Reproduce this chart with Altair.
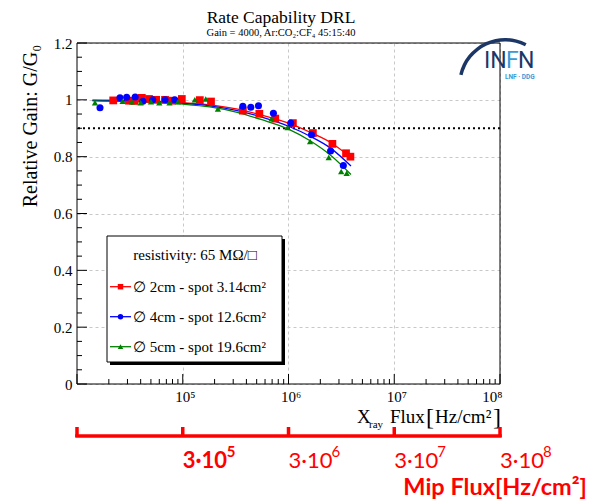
import altair as alt
import pandas as pd

# ---------------- data ----------------
series_names = ["2cm", "4cm", "5cm"]
series_colors = ["#ff0000", "#0000ff", "#008000"]
series_shapes = ["square", "circle", "triangle-up"]
series_sizes = [60, 40, 40]

red_x = [2.2e4, 3.1e4, 3.5e4, 4.1e4, 4.8e4, 5.6e4, 6.8e4, 7.9e4, 9.8e4, 1.45e5, 1.85e5,
         3.7e5, 5.3e5, 7.5e5, 1.1e6, 1.7e6, 2.6e6, 3.5e6, 3.85e6]
red_y = [0.998, 0.997, 0.996, 1.007, 1.003, 1.0, 1.0, 0.997, 1.003, 0.999, 0.994,
         0.962, 0.951, 0.934, 0.918, 0.883, 0.845, 0.812, 0.800]

blue_x = [1.65e4, 2.55e4, 2.95e4, 3.55e4, 4.2e4, 5.2e4, 6.8e4, 8.4e4,
          3.7e5, 4.4e5, 5.2e5, 7.2e5, 1.05e6, 1.65e6, 2.5e6, 3.3e6]
blue_y = [0.972, 1.007, 1.009, 1.010, 0.995, 1.0, 1.0, 1.0,
          0.977, 0.974, 0.979, 0.953, 0.918, 0.877, 0.820, 0.769]

green_x = [1.48e4, 2.7e4, 3.3e4, 4.0e4, 5.0e4, 6.0e4, 7.5e4, 9.0e4, 1.3e5, 1.65e5, 2.15e5,
           6.9e5, 9.8e5, 1.6e6, 2.4e6, 3.15e6, 3.55e6]
green_y = [0.990, 0.995, 0.993, 0.990, 0.993, 0.990, 0.990, 0.993, 1.0, 1.003, 0.968,
           0.933, 0.903, 0.853, 0.797, 0.748, 0.742]

fit_x = [1.4e4, 3e4, 1e5, 1.8e5, 3.2e5, 5.6e5, 1e6, 1.6e6, 2.5e6, 3.9e6]
red_fit = [0.999, 0.998, 0.990, 0.982, 0.968, 0.946, 0.918, 0.886, 0.850, 0.797]
blue_fit = [0.998, 0.996, 0.988, 0.979, 0.963, 0.939, 0.907, 0.872, 0.830, 0.767]
green_fit = [0.996, 0.994, 0.985, 0.975, 0.957, 0.930, 0.897, 0.856, 0.805, 0.737]

threshold = [0.9]

x_label_values = [1e5, 1e6, 1e7, 1e8]
x_label_texts = ["10⁵", "10⁶", "10⁷", "10⁸"]
y_label_values = [0, 0.2, 0.4, 0.6, 0.8, 1.0, 1.2]
y_minor_values = [0.05, 0.1, 0.15, 0.25, 0.3, 0.35, 0.45, 0.5, 0.55, 0.65, 0.7, 0.75,
                  0.85, 0.9, 0.95, 1.05, 1.1, 1.15]
x_major_ticks = [1e4, 1e5, 1e6, 1e7, 1e8]
x_minor_ticks = [m * d for d in [1e4, 1e5, 1e6, 1e7] for m in range(2, 10)]

mip_decades = [1e4, 1e5, 1e6, 1e7, 1e8]
mip_label_x = [1e5, 1e6, 1e7, 1e8]
mip_label_base = ["3·10", "3·10", "3·10", "3·10"]
mip_label_exp = ["5", "6", "7", "8"]

legend_labels = ["∅ 2cm - spot 3.14cm²", "∅ 4cm - spot 12.6cm²", "∅ 5cm - spot 19.6cm²"]

SERIF = "Liberation Serif"
SANS = "Lato"
W, H = 423, 341

points = pd.concat([
    pd.DataFrame({"series": "2cm", "x": red_x, "y": red_y}),
    pd.DataFrame({"series": "4cm", "x": blue_x, "y": blue_y}),
    pd.DataFrame({"series": "5cm", "x": green_x, "y": green_y}),
])
fits = pd.concat([
    pd.DataFrame({"series": "2cm", "x": fit_x, "y": red_fit}),
    pd.DataFrame({"series": "4cm", "x": fit_x, "y": blue_fit}),
    pd.DataFrame({"series": "5cm", "x": fit_x, "y": green_fit}),
])

xscale = alt.Scale(type="log", domain=[1e4, 1e8], nice=False)
yscale = alt.Scale(domain=[0, 1.2], nice=False, zero=False)

label_expr = "[" + ",".join("'%s'" % t for t in x_label_texts) + "][round(log(datum.value)/LN10) - 5]"
xaxis = alt.Axis(values=x_label_values, labelExpr=label_expr, title=None, ticks=False, domain=False,
                 grid=True, gridColor="#c8c8c8", gridDash=[3, 3], gridWidth=1,
                 labelFont=SERIF, labelFontSize=15, labelColor="#000", labelPadding=5, labelOffset=2)
yaxis = alt.Axis(values=y_label_values, format="~g", title=None, ticks=False, domain=False,
                 grid=True, gridColor="#c8c8c8", gridDash=[3, 3], gridWidth=1,
                 labelFont=SERIF, labelFontSize=15, labelColor="#000", labelPadding=5)

X = alt.X("x:Q", scale=xscale, axis=xaxis)
Y = alt.Y("y:Q", scale=yscale, axis=yaxis)
color = alt.Color("series:N", scale=alt.Scale(domain=series_names, range=series_colors), legend=None)
shape = alt.Shape("series:N", scale=alt.Scale(domain=series_names, range=series_shapes), legend=None)
size = alt.Size("series:N", scale=alt.Scale(domain=series_names, range=series_sizes), legend=None)

one = pd.DataFrame({"a": [0]})


def txt(text, x, y, **kw):
    return alt.Chart(one).mark_text(text=text, **kw).encode(x=alt.value(x), y=alt.value(y))


lines = alt.Chart(fits).mark_line(strokeWidth=1.3, interpolate="monotone").encode(x=X, y=Y, color=color)
pts = alt.Chart(points).mark_point(filled=True, opacity=1).encode(x=X, y=Y, color=color, shape=shape, size=size)

dotted = alt.Chart(pd.DataFrame({"y": threshold})).mark_rule(
    color="#000", strokeWidth=2, strokeDash=[2, 3]).encode(y=alt.Y("y:Q", scale=yscale))

ymaj = alt.Chart(pd.DataFrame({"y": y_label_values})).mark_rule(color="#000").encode(
    y=alt.Y("y:Q", scale=yscale), x=alt.value(0), x2=alt.value(10))
ymin = alt.Chart(pd.DataFrame({"y": y_minor_values})).mark_rule(color="#000").encode(
    y=alt.Y("y:Q", scale=yscale), x=alt.value(0), x2=alt.value(5))
xmaj = alt.Chart(pd.DataFrame({"x": x_major_ticks})).mark_rule(color="#000").encode(
    x=alt.X("x:Q", scale=xscale), y=alt.value(H), y2=alt.value(H - 10))
xmin = alt.Chart(pd.DataFrame({"x": x_minor_ticks})).mark_rule(color="#000").encode(
    x=alt.X("x:Q", scale=xscale), y=alt.value(H), y2=alt.value(H - 5))

frame = alt.Chart(one).mark_rect(fill=None, stroke="#000", strokeWidth=1).encode(
    x=alt.value(0), x2=alt.value(W), y=alt.value(0), y2=alt.value(H))

# legend box
leg_shadow = alt.Chart(one).mark_rect(color="#000").encode(
    x=alt.value(33), x2=alt.value(208), y=alt.value(196), y2=alt.value(322))
leg_box = alt.Chart(one).mark_rect(fill="#fff", stroke="#000", strokeWidth=1).encode(
    x=alt.value(30), x2=alt.value(205), y=alt.value(193), y2=alt.value(319))
leg_title = txt("resistivity: 65 MΩ/□", 118, 212, font=SERIF, fontSize=15, align="center", baseline="middle")
leg_layers = [leg_shadow, leg_box, leg_title]
for i, (lab, col, shp) in enumerate(zip(legend_labels, series_colors, series_shapes)):
    yy = 243.7 + 30 * i
    leg_layers.append(alt.Chart(one).mark_rule(color=col, strokeWidth=1.3).encode(
        x=alt.value(33), x2=alt.value(54), y=alt.value(yy)))
    leg_layers.append(alt.Chart(one).mark_point(shape=shp, filled=True, opacity=1, color=col, size=30).encode(
        x=alt.value(43.5), y=alt.value(yy)))
    leg_layers.append(txt(lab, 56, yy, font=SERIF, fontSize=15, align="left", baseline="middle"))

# titles
title = txt("Rate Capability DRL", 204, -25, font=SERIF, fontSize=17.5, align="center", baseline="middle")
subtitle = txt("Gain = 4000, Ar:CO₂:CF₄ 45:15:40", 204, -10, font=SERIF, fontSize=10.5, align="center", baseline="middle")
ytitle = txt("Relative Gain: G/G₀", -46, 83, font=SERIF, fontSize=20, align="center", baseline="middle", angle=270)
xt1 = txt("X", 280, 380, font=SERIF, fontSize=19, align="left", baseline="alphabetic")
xt2 = txt("ray", 292, 385, font=SERIF, fontSize=11, align="left", baseline="alphabetic")
xt3 = txt("Flux", 313, 380, font=SERIF, fontSize=19, align="left", baseline="alphabetic")
xt4 = txt("[", 349, 382, font=SERIF, fontSize=24, align="left", baseline="alphabetic")
xt5 = txt("Hz/cm²", 358, 380, font=SERIF, fontSize=19, align="left", baseline="alphabetic")
xt6 = txt("]", 416, 382, font=SERIF, fontSize=24, align="left", baseline="alphabetic")

# mip flux bracket
brk_line = alt.Chart(pd.DataFrame({"x": [mip_decades[0]], "x2": [mip_decades[-1]]})).mark_rule(
    color="#ff0000", strokeWidth=3.5, strokeCap="square").encode(
    x=alt.X("x:Q", scale=xscale), x2="x2:Q", y=alt.value(393))
brk_ticks = alt.Chart(pd.DataFrame({"x": mip_decades})).mark_rule(
    color="#ff0000", strokeWidth=3.5).encode(
    x=alt.X("x:Q", scale=xscale), y=alt.value(384), y2=alt.value(394))
mip_df = pd.DataFrame({"x": mip_label_x, "b": mip_label_base, "e": mip_label_exp,
                       "bold": [True, False, False, False]})
MIP_Y = 418
mip_bold = alt.Chart(mip_df[mip_df.bold]).mark_text(
    font=SANS, fontSize=22, fontWeight="bold", color="#ff0000", align="left", baseline="middle").encode(
    x=alt.X("x:Q", scale=xscale), y=alt.value(MIP_Y), text="b:N")
mip_norm = alt.Chart(mip_df[~mip_df.bold]).mark_text(
    font=SANS, fontSize=22, color="#ff0000", align="left", baseline="middle").encode(
    x=alt.X("x:Q", scale=xscale), y=alt.value(MIP_Y), text="b:N")
mip_exp_b = alt.Chart(mip_df[mip_df.bold]).mark_text(
    font=SANS, fontSize=15, fontWeight="bold", color="#ff0000", align="left", baseline="middle", dx=44, dy=-9).encode(
    x=alt.X("x:Q", scale=xscale), y=alt.value(MIP_Y), text="e:N")
mip_exp_n = alt.Chart(mip_df[~mip_df.bold]).mark_text(
    font=SANS, fontSize=15, color="#ff0000", align="left", baseline="middle", dx=43, dy=-9).encode(
    x=alt.X("x:Q", scale=xscale), y=alt.value(MIP_Y), text="e:N")
mip_title = txt("Mip Flux[Hz/cm²]", 510, 444.5, font=SANS, fontSize=23.5, fontWeight="bold",
                color="#ff0000", align="right", baseline="middle")

# INFN logo
arc = alt.Chart(one).mark_arc(color="#1c3766", radius=47, radius2=43.5, theta=4.94, theta2=6.76).encode(
    x=alt.value(428), y=alt.value(42))
logo1 = txt("IN", 407, 25, font="Roboto", fontSize=23, color="#1c3766", align="left", baseline="alphabetic")
logo2 = txt("F", 429, 25, font="Roboto", fontSize=23, color="#3a9ad6", align="left", baseline="alphabetic")
logo3 = txt("N", 441, 25, font="Roboto", fontSize=23, color="#1c3766", align="left", baseline="alphabetic")
logo4 = txt("LNF · DDG", 428, 33.5, font="Roboto", fontSize=6.5, fontWeight="bold", color="#3a9ad6",
            align="left", baseline="middle")

chart = alt.layer(
    pts.mark_point(opacity=0).encode(),  # axes / grid carrier
    dotted, lines, pts, ymaj, ymin, xmaj, xmin, frame,
    *leg_layers,
    title, subtitle, ytitle, xt1, xt2, xt3, xt4, xt5, xt6,
    brk_line, brk_ticks, mip_bold, mip_norm, mip_exp_b, mip_exp_n, mip_title,
    arc, logo1, logo2, logo3, logo4,
).properties(
    width=W, height=H,
    autosize=alt.AutoSizeParams(type="none"),
    padding={"left": 69, "top": 35, "right": 87, "bottom": 118},
    background="#ffffff",
).configure_view(stroke=None)

chart.save("out.html", embed_options={"renderer": "svg", "actions": False})
